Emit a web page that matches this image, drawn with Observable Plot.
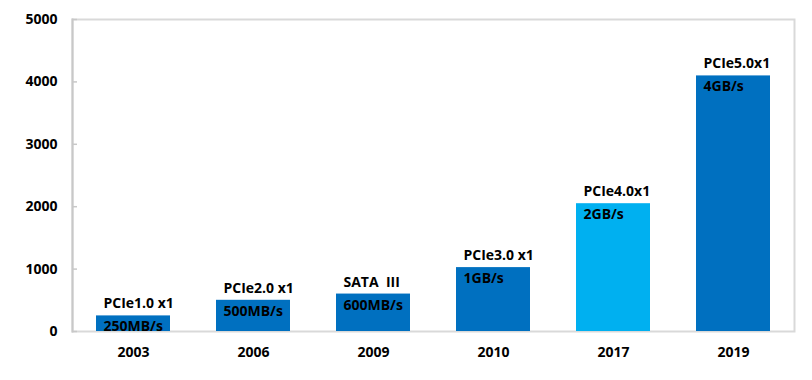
<!DOCTYPE html>
<html>
<head>
<meta charset="utf-8">
<script src="https://cdn.jsdelivr.net/npm/d3@7"></script>
<script src="https://cdn.jsdelivr.net/npm/@observablehq/plot@0.6"></script>
<style>
  html, body { margin: 0; padding: 0; background: #fff; }
  svg text { white-space: pre; }
</style>
</head>
<body>
<div id="chart"></div>
<script>
const years = ["2003", "2006", "2009", "2010", "2017", "2019"];
const speeds = [250, 500, 600, 1024, 2048, 4096];
const topLabels = ["PCIe1.0 x1", "PCIe2.0 x1", "SATA  III", "PCIe3.0 x1", "PCIe4.0x1", "PCIe5.0x1"];
const innerLabels = ["250MB/s", "500MB/s", "600MB/s", "1GB/s", "2GB/s", "4GB/s"];
const highlight = ["no", "no", "no", "no", "yes", "no"];
const yTicks = [0, 1000, 2000, 3000, 4000, 5000];

const data = years.map((y, i) => ({
  year: y, value: speeds[i], top: topLabels[i], inner: innerLabels[i], hl: highlight[i]
}));

const font = "'Open Sans', 'Noto Sans', sans-serif";

const chart = Plot.plot({
  width: 812,
  height: 380,
  marginLeft: 72,
  marginRight: 18,
  marginTop: 19,
  marginBottom: 49,
  style: { fontFamily: font, background: "#fff", color: "#000" },
  x: { domain: years, paddingInner: 0.385, paddingOuter: 0.1925, label: null },
  y: { domain: [0, 5000], label: null },
  color: { domain: ["no", "yes"], range: ["#0070C0", "#00B0F0"] },
  marks: [
    Plot.frame({ stroke: "#D9D9D9", strokeWidth: 2 }),
    Plot.frame({ anchor: "left", stroke: "#C8C8C8", strokeWidth: 2 }),
    Plot.barY(data, { x: "year", y: "value", fill: "hl" }),
    Plot.axisY(yTicks, { tickSize: -5, text: null, stroke: "#C8C8C8", strokeWidth: 1.5 }),
    Plot.axisY(yTicks, { tickSize: 0, tickPadding: 15, tickFormat: d => String(d), fontSize: 14, fontWeight: "bold", fill: "#000" }),
    Plot.axisX({ tickSize: 0, tickPadding: 16, fontSize: 14, fontWeight: "bold", fill: "#000" }),
    Plot.text(data, { x: "year", y: "value", text: "top", textAnchor: "start", dx: -30, dy: -12, fontSize: 14, fontWeight: "bold", fill: "#000" }),
    Plot.text(data, { x: "year", y: "value", text: "inner", textAnchor: "start", dx: -30, dy: 11, fontSize: 14, fontWeight: "bold", fill: "#000" })
  ]
});
document.getElementById("chart").appendChild(chart);
</script>
</body>
</html>
